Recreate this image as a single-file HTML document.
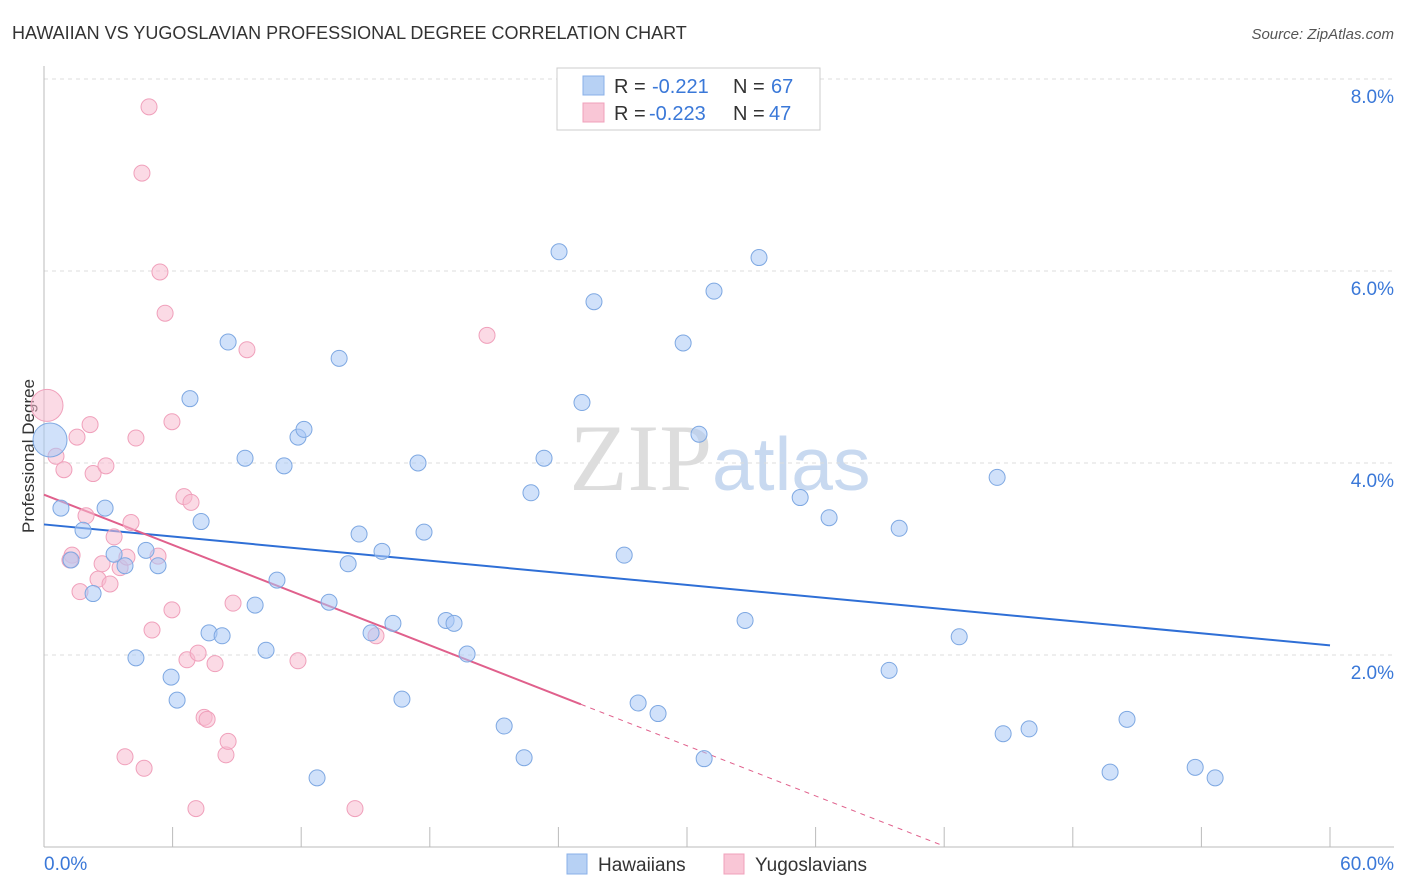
<!DOCTYPE html>
<html><head><meta charset="utf-8">
<style>
body{margin:0;background:#fff;font-family:"Liberation Sans",sans-serif;}
svg{display:block}
</style></head><body>
<svg id="chart" width="1406" height="892">
<text x="12" y="39" font-size="18" fill="#333">HAWAIIAN VS YUGOSLAVIAN PROFESSIONAL DEGREE CORRELATION CHART</text>
<text x="1394" y="39" font-size="15" fill="#555" font-style="italic" text-anchor="end">Source: ZipAtlas.com</text>
<text x="34" y="456" font-size="17" fill="#333" text-anchor="middle" transform="rotate(-90 34 456)">Professional Degree</text>
<text x="720" y="490" font-size="95" fill="#ddd" text-anchor="middle" font-family="Liberation Serif,serif">ZIP<tspan fill="#c8d9f0" font-family="Liberation Sans,sans-serif" font-size="75">atlas</tspan></text>
<g id="grid"></g><g id="trend"></g><g id="pts"></g>
<g>
<rect x="557" y="68" width="263" height="62" fill="#fff" stroke="#ccc"/>
<rect x="583" y="76" width="21" height="19" fill="#b7d1f4" stroke="#8ab0e8"/>
<rect x="583" y="103" width="21" height="19" fill="#f9c6d6" stroke="#f0a0bb"/>
<text x="614" y="93" font-size="20" fill="#333">R =</text>
<text x="652" y="93" font-size="20" fill="#3a78d8">-0.221</text>
<text x="733" y="93" font-size="20" fill="#333">N =</text>
<text x="771" y="93" font-size="20" fill="#3a78d8">67</text>
<text x="614" y="120" font-size="20" fill="#333">R =</text>
<text x="649" y="120" font-size="20" fill="#3a78d8">-0.223</text>
<text x="733" y="120" font-size="20" fill="#333">N =</text>
<text x="769" y="120" font-size="20" fill="#3a78d8">47</text>
</g>
<g>
<rect x="567" y="854" width="20" height="20" fill="#b7d1f4" stroke="#8ab0e8"/>
<text x="598" y="871" font-size="19" fill="#333">Hawaiians</text>
<rect x="724" y="854" width="20" height="20" fill="#f9c6d6" stroke="#f0a0bb"/>
<text x="755" y="871" font-size="19" fill="#333">Yugoslavians</text>
</g>
<text x="44" y="870" font-size="19" fill="#3a78d8">0.0%</text>
<text x="1394" y="870" font-size="19" fill="#3a78d8" text-anchor="end">60.0%</text>
</svg>
<script>
const yTicks=[2,4,6,8];
const yTickLabels=["2.0%","4.0%","6.0%","8.0%"];
const xTicks=[0,6,12,18,24,30,36,42,48,54,60];
const blueX=[0.28,0.79,1.82,1.26,2.29,2.85,3.27,3.78,4.76,5.32,4.29,5.93,6.21,6.81,7.33,7.70,8.31,8.59,9.38,9.85,10.36,11.2,10.87,11.85,12.13,12.74,13.3,13.77,14.19,14.7,15.26,15.77,16.28,16.7,17.45,17.73,18.76,19.13,19.74,21.47,22.4,22.72,23.33,24.03,25.1,25.66,27.07,27.72,28.65,29.82,30.56,30.8,31.26,32.71,33.36,35.28,36.63,39.43,39.9,42.7,44.47,44.75,45.96,49.74,50.53,53.71,54.64];
const blueY=[4.24,3.53,3.30,2.99,2.64,3.53,3.05,2.93,3.09,2.93,1.97,1.77,1.53,4.67,3.39,2.23,2.20,5.26,4.05,2.52,2.05,3.97,2.78,4.27,4.35,0.72,2.55,5.09,2.95,3.26,2.23,3.08,2.33,1.54,4.0,3.28,2.36,2.33,2.01,1.26,0.93,3.69,4.05,6.20,4.63,5.68,3.04,1.50,1.39,5.25,4.30,0.92,5.79,2.36,6.14,3.64,3.43,1.84,3.32,2.19,3.85,1.18,1.23,0.78,1.33,0.83,0.72];
const pinkX=[0.14,0.56,0.93,1.31,1.21,1.54,1.68,1.96,2.15,2.29,2.52,2.71,2.89,3.08,3.27,3.55,3.78,3.87,4.06,4.29,4.67,4.57,4.9,5.04,5.32,5.41,5.65,5.97,5.97,6.53,6.67,6.86,7.09,7.19,7.47,7.61,7.98,8.49,8.59,8.82,9.47,11.85,14.51,15.49,20.67];
const pinkY=[4.6,4.07,3.93,3.04,2.99,4.27,2.66,3.45,4.4,3.89,2.79,2.95,3.97,2.74,3.23,2.91,0.94,3.02,3.38,4.26,0.82,7.02,7.71,2.26,3.03,5.99,5.56,2.47,4.43,3.65,1.95,3.59,0.40,2.02,1.35,1.33,1.91,0.96,1.10,2.54,5.18,1.94,0.40,2.20,5.33];
const blueTrend=[3.36,2.10];
const pinkTrend=[3.67,-1.56];
const pinkSolidEnd=25.05, pinkDashEnd=42.0;
const NS="http://www.w3.org/2000/svg";
const X=v=>44+v*(1286/60), Y=v=>847-v*96;
function mk(t,a,p){const e=document.createElementNS(NS,t);for(const k in a)e.setAttribute(k,a[k]);p.appendChild(e);return e;}
const grid=document.getElementById('grid');
yTicks.forEach((t,i)=>{
 const l=mk('line',{x1:44,x2:1394,y1:Y(t),y2:Y(t),stroke:'#ddd','stroke-dasharray':'4,4'},grid);
 
 
 const tx=mk('text',{x:1394,y:Y(t)+24,'font-size':19,fill:'#3a78d8','text-anchor':'end'},grid);
 tx.textContent=yTickLabels[i];
 
 
});
const ax=mk('line',{x1:44,x2:1394,y1:847,y2:847,stroke:'#bbb'},grid);


const ay=mk('line',{x1:44,x2:44,y1:66,y2:847,stroke:'#bbb'},grid);


xTicks.forEach(t=>{
 const l=mk('line',{x1:X(t),x2:X(t),y1:827,y2:847,stroke:'#bbb'},grid);
 
 
});
const tr=document.getElementById('trend');
const lf=(a,x)=>a[0]+(a[1]-a[0])*x/60;
const bl=mk('line',{x1:X(0),y1:Y(lf(blueTrend,0)),x2:X(60),y2:Y(lf(blueTrend,60)),stroke:'#2f6fd6','stroke-width':2},tr);


const pl=mk('line',{x1:X(0),y1:Y(lf(pinkTrend,0)),x2:X(pinkSolidEnd),y2:Y(lf(pinkTrend,pinkSolidEnd)),stroke:'#e0608c','stroke-width':2},tr);


const pd=mk('line',{x1:X(pinkSolidEnd),y1:Y(lf(pinkTrend,pinkSolidEnd)),x2:X(pinkDashEnd),y2:Y(lf(pinkTrend,pinkDashEnd)),stroke:'#e0608c','stroke-width':1,'stroke-dasharray':'5,5'},tr);


const pts=document.getElementById('pts');
pinkX.forEach((x,i)=>{
 const c=mk('circle',{cx:X(x),cy:Y(pinkY[i]),r:i==0?16:8,fill:'rgba(248,187,208,0.55)',stroke:'#f0a0bb','stroke-width':1},pts);
 
 
});
blueX.forEach((x,i)=>{
 const c=mk('circle',{cx:X(x),cy:Y(blueY[i]),r:i==0?17:8,fill:'rgba(170,200,245,0.55)',stroke:'#7ea8e2','stroke-width':1},pts);
 
 
});
</script>
</body></html>
